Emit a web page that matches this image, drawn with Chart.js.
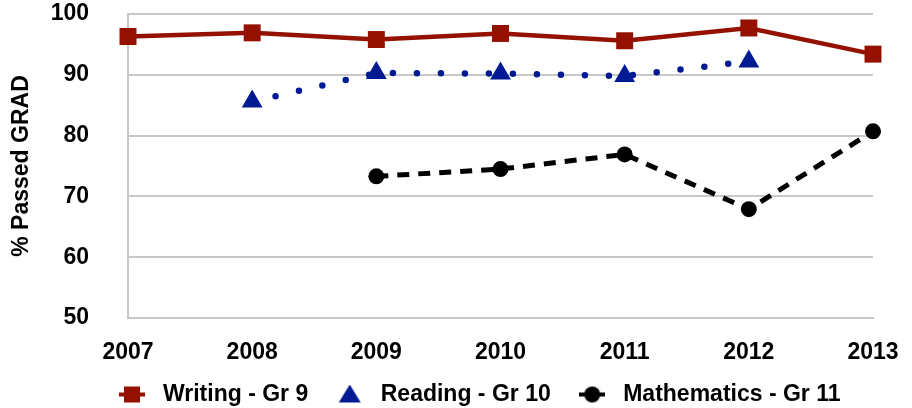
<!DOCTYPE html>
<html>
<head>
<meta charset="utf-8">
<script src="https://cdn.jsdelivr.net/npm/chart.js@4"></script>
<style>
  html, body { margin: 0; padding: 0; background: #fff; }
  #wrap { width: 912px; height: 408px; }
</style>
</head>
<body>
<div id="wrap"><canvas id="myChart"></canvas></div>
<script>
const years = ['2007', '2008', '2009', '2010', '2011', '2012', '2013']
const writing = [96.3, 96.9, 95.8, 96.8, 95.6, 97.7, 93.4]
const reading = [null, 85.6, 90.3, 90.2, 89.8, 92.2, null]
const maths = [null, null, 73.3, 74.5, 76.9, 67.9, 80.7]
const yTicks = [50, 60, 70, 80, 90, 100]

const fontFam = '"Liberation Sans", Arial, sans-serif'
const gridGrey = '#c8c8c8'
const red = '#941100'
const blue = '#011993'
const clear = 'rgba(0,0,0,0)'

// little legend icons: marker with a short line stub, like the original
function legendIcon(shape, color, stub) {
    const c = document.createElement('canvas')
    c.width = 26
    c.height = 20
    const g = c.getContext('2d')
    g.fillStyle = color
    g.strokeStyle = color
    if (stub) {
        g.lineWidth = 4
        g.beginPath()
        g.moveTo(0, 10)
        g.lineTo(26, 10)
        g.stroke()
    }
    g.beginPath()
    if (shape == 'rect') {
        g.rect(5, 2, 16, 16)
    } else if (shape == 'triangle') {
        g.moveTo(13, 0)
        g.lineTo(24, 18)
        g.lineTo(2, 18)
        g.closePath()
    } else {
        g.arc(13, 10, 8, 0, Math.PI * 2)
    }
    g.fill()
    return c
}
const icons = [legendIcon('rect', red, true), legendIcon('triangle', blue, false), legendIcon('circle', '#000', true)]

// nudge the legend row to sit where the original has it
const legendShift = {
    id: 'legendShift',
    afterLayout(chart) {
        chart.legend.left += 40
        chart.legend.right += 40
    }
}

const ctx = document.getElementById('myChart')
const chart = new Chart(ctx, {
    type: 'line',
    data: {
        labels: years,
        datasets: [{
            label: 'Writing - Gr 9',
            data: writing,
            borderColor: red,
            backgroundColor: red,
            borderWidth: 4.5,
            pointStyle: 'rect',
            pointRadius: 12,
            pointBorderWidth: 0
        }, {
            label: 'Reading - Gr 10',
            data: reading,
            borderColor: blue,
            backgroundColor: blue,
            borderWidth: 6.5,
            borderDash: [0, 24],
            borderCapStyle: 'round',
            pointStyle: 'triangle',
            pointRadius: 12,
            pointBorderWidth: 0
        }, {
            label: 'Mathematics - Gr 11',
            data: maths,
            borderColor: '#000',
            backgroundColor: '#000',
            borderWidth: 5,
            borderDash: [12, 9],
            pointStyle: 'circle',
            pointRadius: 8,
            pointBorderWidth: 0
        }]
    },
    options: {
        responsive: true,
        maintainAspectRatio: false,
        animation: false,
        layout: { padding: { top: 14, right: 39, bottom: -8, left: 0 } },
        scales: {
            x: {
                afterFit: s => { s.height = 43 },
                grid: { display: true, drawOnChartArea: false, drawTicks: true, tickLength: 21, tickColor: clear, color: clear },
                border: { color: gridGrey, width: 2 },
                ticks: { color: '#000', padding: 0, font: { family: fontFam, size: 23, weight: 'bold' } }
            },
            y: {
                min: 50,
                max: 100,
                afterFit: s => { s.width = 128 },
                afterBuildTicks: s => { s.ticks = yTicks.map(v => ({ value: v })) },
                grid: { color: gridGrey, lineWidth: 2, drawTicks: true, tickLength: 39, tickColor: clear },
                border: { color: gridGrey, width: 2 },
                ticks: { color: '#000', padding: 0, font: { family: fontFam, size: 23, weight: 'bold' } },
                title: {
                    display: true,
                    text: '% Passed GRAD',
                    color: '#000',
                    padding: { top: 8, bottom: 0 },
                    font: { family: fontFam, size: 23, weight: 'bold' }
                }
            }
        },
        plugins: {
            tooltip: { enabled: false },
            legend: {
                position: 'bottom',
                labels: {
                    usePointStyle: true,
                    pointStyleWidth: 39,
                    boxHeight: 16,
                    padding: 22,
                    color: '#000',
                    font: { family: fontFam, size: 23, weight: 'bold' },
                    generateLabels: c => Chart.defaults.plugins.legend.labels.generateLabels(c)
                        .map((item, i) => Object.assign(item, { pointStyle: icons[i] }))
                }
            }
        }
    },
    plugins: [legendShift]
})
</script>
</body>
</html>
